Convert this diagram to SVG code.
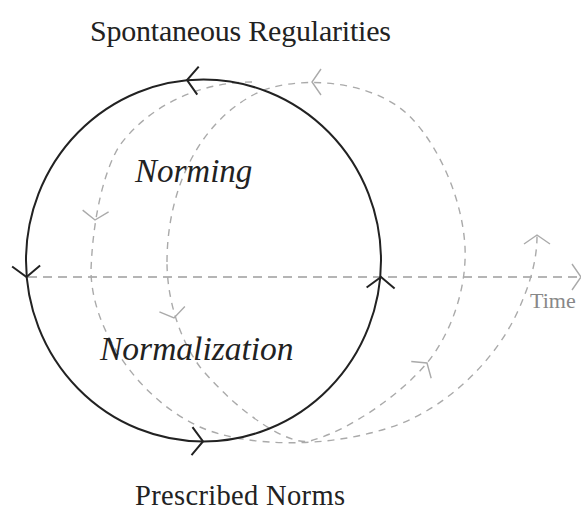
<svg xmlns="http://www.w3.org/2000/svg" xmlns:xlink="http://www.w3.org/1999/xlink" width="581" height="513" viewBox="0 0 581 513">
<defs>
<style>
.lbl{font-family:"Liberation Serif","Times New Roman",serif;fill:#222}
.it{font-style:italic}
.solid{fill:none;stroke:#222;stroke-width:2}
.dash{fill:none;stroke:#aaa;stroke-width:1.4;stroke-dasharray:7 6}
.axis{fill:none;stroke:#9d9d9d;stroke-width:1.5;stroke-dasharray:9 6}
.ahs{fill:none;stroke:#222;stroke-width:2}
.ahg{fill:none;stroke:#aaa;stroke-width:1.4}
</style>
<path id="ah" d="M -11 -14 L 0 0 L -11 14"/>
<path id="ahsm" d="M -9 -13 L 0 0 L -9 13"/>
</defs>
<rect width="581" height="513" fill="#fff"/>
<g id="connectors">
<path id="time-axis" class="axis" d="M 28 277 L 580 277"/>
<path id="loop-b" class="dash" d="M 167 262 C 167 195, 195 125, 255 94 C 290 76, 360 78, 400 108 C 430 130, 462 190, 465 247 C 467 290, 450 335, 427 363 C 400 395, 350 430, 310 441 C 290 446, 240 415, 200 367 C 180 340, 167 300, 167 262 Z"/>
<path id="loop-a" class="dash" d="M 252 82 C 200 82, 150 105, 120 145 C 105 168, 93 215, 91 270 C 91 330, 140 400, 200 427 C 245 447, 330 450, 400 424 C 450 404, 495 360, 517 313 C 530 285, 537 260, 537 236"/>
<ellipse id="cycle" class="solid" cx="203.5" cy="260.5" rx="177.5" ry="181"/>
<g class="ahs">
<use xlink:href="#ah" transform="translate(187,80) rotate(183)"/>
<use xlink:href="#ah" transform="translate(26.5,277) rotate(88)"/>
<use xlink:href="#ah" transform="translate(203,441.5) rotate(2)"/>
<use xlink:href="#ah" transform="translate(381,277) rotate(-88)"/>
</g>
<g class="ahg">
<use xlink:href="#ahsm" transform="translate(95,220) rotate(94)"/>
<use xlink:href="#ahsm" transform="translate(174,318) rotate(78)"/>
<use xlink:href="#ahsm" transform="translate(312,82) rotate(180)"/>
<use xlink:href="#ahsm" transform="translate(427,363) rotate(-50)"/>
<use xlink:href="#ahsm" transform="translate(537,235) rotate(-90)"/>
<use xlink:href="#ahsm" transform="translate(581,277) rotate(0)"/>
</g>
</g>
<g id="node-spontaneous"><text class="lbl" x="90" y="41" font-size="30" textLength="301">Spontaneous Regularities</text></g>
<g id="node-norming"><text class="lbl it" x="135" y="182" font-size="33">Norming</text></g>
<g id="node-normalization"><text class="lbl it" x="100" y="360" font-size="33.5">Normalization</text></g>
<g id="node-prescribed"><text class="lbl" x="135" y="505" font-size="28.5" textLength="210">Prescribed Norms</text></g>
<g id="node-time"><text class="lbl" x="530" y="308" font-size="22" style="fill:#888">Time</text></g>
</svg>
